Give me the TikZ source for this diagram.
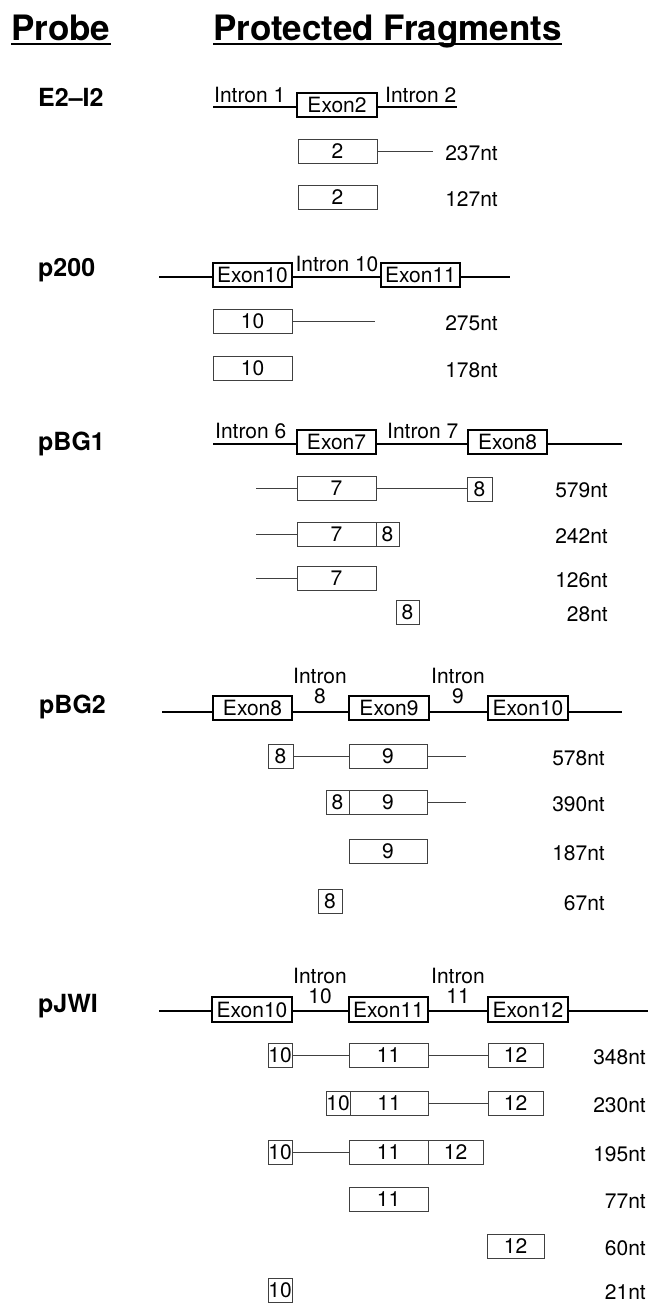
\documentclass[tikz,border=0pt]{standalone}
\usepackage{fontspec}
\setmainfont{TeX Gyre Heros}
\newcommand\fsz[1]{\fontsize{#1pt}{#1pt}\selectfont}
\tikzset{
  exon/.style={draw, line width=2.2pt, fill=white, inner sep=0pt, font=\fsz{21}},
  frag/.style={draw=black!75, line width=0.9pt, fill=white, inner sep=0pt, font=\fsz{21}},
  gene/.style={line width=2.2pt},
  fline/.style={draw=black!75, line width=0.9pt},
  txt/.style={inner sep=0pt, font=\fsz{21}},
  nt/.style={inner sep=0pt, font=\fsz{21}, anchor=base east},
  probe/.style={inner sep=0pt, font=\bfseries\fsz{25}, anchor=base west},
  hdr/.style={inner sep=0pt, font=\bfseries\fsz{35}, anchor=base west},
  uline/.style={line width=2.4pt},
}
\newcommand\bx[7]{\node[#1, minimum width={(#5-#3)*1pt}, minimum height={(#6-#4)*1pt}] (#2) at ({(#3+#5)/2},{(#4+#6)/2}) {#7};}
\begin{document}
\begin{tikzpicture}[x=1pt,y=-1pt]
\useasboundingbox (0,0) rectangle (648,1304);
% headers
\node[hdr] (hp) at (11,40) {Probe};
\node[hdr] (hf) at (213,40) {Protected Fragments};
\draw[uline] ([yshift=-4pt]hp.base west) -- ([yshift=-4pt]hp.base east);
\draw[uline] ([yshift=-4pt]hf.base west) -- ([yshift=-4pt]hf.base east);
% probe names
\node[probe] (pa) at (38,106) {E2–I2};
\node[probe] (pb) at (38,276) {p200};
\node[probe] (pc) at (38,450) {pBG1};
\node[probe] (pd) at (39,713) {pBG2};
\node[probe] (pe) at (38,1012) {pJWI};

% ===== E2-I2 =====
\bx{exon}{ax2}{297}{93}{377}{117}{Exon2}
\coordinate (a0) at (213,107); \coordinate (a1) at (457,107);
\draw[gene] (a0) -- (a0 -| ax2.west);
\draw[gene] (a0 -| ax2.east) -- (a1);
\node[txt, anchor=base west] (ai1) at (214,102) {Intron 1};
\node[txt, anchor=base west] (ai2) at (385,102) {Intron 2};
\bx{frag}{af1}{298}{139}{377}{163}{2}
\coordinate (af1e) at (433,151);
\draw[fline] (af1.east) -- (af1e);
\node[nt] (an1) at (498,160) {237nt};
\bx{frag}{af2}{298}{185}{377}{209}{2}
\node[nt] (an2) at (498,206) {127nt};

% ===== p200 =====
\bx{exon}{bx10}{213}{263}{292}{287}{Exon10}
\bx{exon}{bx11}{381}{263}{460}{287}{Exon11}
\coordinate (b0) at (159,277); \coordinate (b1) at (510,277);
\draw[gene] (b0) -- (b0 -| bx10.west);
\draw[gene] (b0 -| bx10.east) -- (b0 -| bx11.west);
\draw[gene] (b0 -| bx11.east) -- (b1);
\node[txt, anchor=base] (bi10) at (337,271) {Intron 10};
\bx{frag}{bf1}{213}{309}{292}{333}{10}
\coordinate (bf1e) at (375,321);
\draw[fline] (bf1.east) -- (bf1e);
\node[nt] (bn1) at (498,330) {275nt};
\bx{frag}{bf2}{213}{356}{292}{380}{10}
\node[nt] (bn2) at (498,377) {178nt};

% ===== pBG1 =====
\bx{exon}{cx7}{297}{430}{376}{454}{Exon7}
\bx{exon}{cx8}{468}{430}{547}{454}{Exon8}
\coordinate (c0) at (213,444); \coordinate (c1) at (622,444);
\draw[gene] (c0) -- (c0 -| cx7.west);
\draw[gene] (c0 -| cx7.east) -- (c0 -| cx8.west);
\draw[gene] (c0 -| cx8.east) -- (c1);
\node[txt, anchor=base west] (ci6) at (215,438) {Intron 6};
\node[txt, anchor=base west] (ci7) at (387,438) {Intron 7};
% 579
\coordinate (c1s) at (256,488);
\bx{frag}{c1a}{297}{476}{376}{500}{7}
\bx{frag}{c1b}{467}{477}{492}{501}{8}
\draw[fline] (c1s) -- (c1a.west);
\draw[fline] (c1a.east) -- (c1a.east -| c1b.west);
\node[nt] (cn1) at (608,497) {579nt};
% 242
\coordinate (c2s) at (256,534);
\bx{frag}{c2a}{297}{522}{376}{546}{7}
\bx{frag}{c2b}{376}{522}{399}{546}{8}
\draw[fline] (c2s) -- (c2a.west);
\node[nt] (cn2) at (608,543) {242nt};
% 126
\coordinate (c3s) at (256,578);
\bx{frag}{c3a}{297}{566}{376}{590}{7}
\draw[fline] (c3s) -- (c3a.west);
\node[nt] (cn3) at (608,587) {126nt};
% 28
\bx{frag}{c4b}{396}{600}{419}{624}{8}
\node[nt] (cn4) at (608,621) {28nt};

% ===== pBG2 =====
\bx{exon}{dx8}{213}{696}{292}{720}{Exon8}
\bx{exon}{dx9}{349}{696}{429}{720}{Exon9}
\bx{exon}{dx10}{488}{696}{568}{720}{Exon10}
\coordinate (d0) at (162,712); \coordinate (d1) at (622,712);
\draw[gene] (d0) -- (d0 -| dx8.west);
\draw[gene] (d0 -| dx8.east) -- (d0 -| dx9.west);
\draw[gene] (d0 -| dx9.east) -- (d0 -| dx10.west);
\draw[gene] (d0 -| dx10.east) -- (d1);
\node[txt, anchor=base] (di8a) at (320,683) {Intron};
\node[txt, anchor=base] (di8b) at (320,703) {8};
\node[txt, anchor=base] (di9a) at (458,683) {Intron};
\node[txt, anchor=base] (di9b) at (458,703) {9};
% 578
\bx{frag}{d1a}{268}{744}{293}{768}{8}
\bx{frag}{d1b}{349}{744}{427}{768}{9}
\coordinate (d1e) at (466,756);
\draw[fline] (d1a.east) -- (d1b.west);
\draw[fline] (d1b.east) -- (d1e);
\node[nt] (dn1) at (605,765) {578nt};
% 390
\bx{frag}{d2a}{326}{790}{349}{814}{8}
\bx{frag}{d2b}{349}{790}{427}{814}{9}
\coordinate (d2e) at (466,802);
\draw[fline] (d2b.east) -- (d2e);
\node[nt] (dn2) at (605,811) {390nt};
% 187
\bx{frag}{d3b}{349}{839}{427}{863}{9}
\node[nt] (dn3) at (605,860) {187nt};
% 67
\bx{frag}{d4a}{318}{889}{342}{913}{8}
\node[nt] (dn4) at (605,910) {67nt};

% ===== pJWI =====
\bx{exon}{ex10}{212}{997}{292}{1022}{Exon10}
\bx{exon}{ex11}{349}{997}{428}{1022}{Exon11}
\bx{exon}{ex12}{488}{997}{568}{1022}{Exon12}
\coordinate (e0) at (159,1011); \coordinate (e1) at (648,1011);
\draw[gene] (e0) -- (e0 -| ex10.west);
\draw[gene] (e0 -| ex10.east) -- (e0 -| ex11.west);
\draw[gene] (e0 -| ex11.east) -- (e0 -| ex12.west);
\draw[gene] (e0 -| ex12.east) -- (e1);
\node[txt, anchor=base] (ei10a) at (320,983) {Intron};
\node[txt, anchor=base] (ei10b) at (320,1003) {10};
\node[txt, anchor=base] (ei11a) at (458,983) {Intron};
\node[txt, anchor=base] (ei11b) at (458,1003) {11};
% 348
\bx{frag}{e1a}{268}{1043}{292}{1067}{10}
\bx{frag}{e1b}{349}{1043}{428}{1067}{11}
\bx{frag}{e1c}{488}{1043}{543}{1067}{12}
\draw[fline] (e1a.east) -- (e1b.west);
\draw[fline] (e1b.east) -- (e1c.west);
\node[nt] (en1) at (646,1064) {348nt};
% 230
\bx{frag}{e2a}{326}{1091}{350}{1115}{10}
\bx{frag}{e2b}{350}{1091}{428}{1115}{11}
\bx{frag}{e2c}{488}{1091}{543}{1115}{12}
\draw[fline] (e2b.east) -- (e2c.west);
\node[nt] (en2) at (646,1112) {230nt};
% 195
\bx{frag}{e3a}{268}{1140}{292}{1164}{10}
\bx{frag}{e3b}{349}{1140}{428}{1164}{11}
\bx{frag}{e3c}{428}{1140}{483}{1164}{12}
\draw[fline] (e3a.east) -- (e3b.west);
\node[nt] (en3) at (646,1161) {195nt};
% 77
\bx{frag}{e4b}{349}{1187}{428}{1211}{11}
\node[nt] (en4) at (646,1208) {77nt};
% 60
\bx{frag}{e5c}{487}{1234}{544}{1258}{12}
\node[nt] (en5) at (646,1255) {60nt};
% 21
\bx{frag}{e6a}{268}{1278}{292}{1302}{10}
\node[nt] (en6) at (646,1299) {21nt};
\end{tikzpicture}
\end{document}
